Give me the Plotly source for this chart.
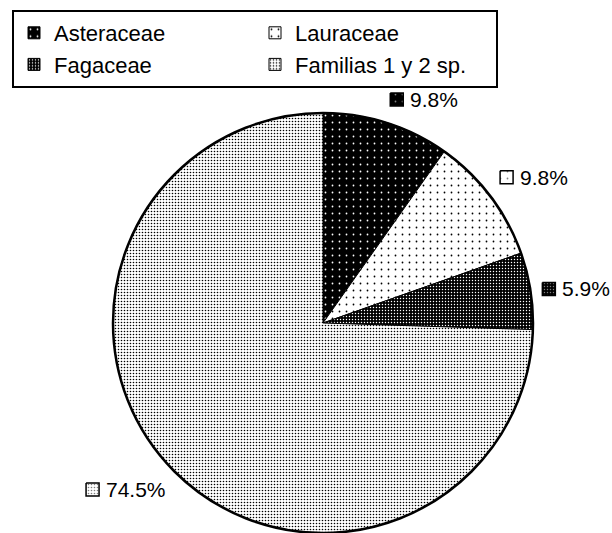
import math
import plotly.graph_objects as go

# Data: share of species by family (%)
families = ["Asteraceae", "Lauraceae", "Fagaceae", "Familias 1 y 2 sp."]
percentages = [9.8, 9.8, 5.9, 74.5]

# Figure geometry in pixels
W, H = 612, 533
CX, CY, R = 323, 323, 210
FONT = "Liberation Sans, Arial, Helvetica, sans-serif"

# Dotted fills for each family
patterns = [
    dict(shape=".", bgcolor="black", fgcolor="white", size=7, solidity=0.05),
    dict(shape=".", bgcolor="white", fgcolor="black", size=7, solidity=0.05),
    dict(shape=".", bgcolor="black", fgcolor="white", size=3, solidity=0.18),
    dict(shape=".", bgcolor="white", fgcolor="black", size=3, solidity=0.22),
]

fig = go.Figure()

fig.add_trace(go.Pie(
    labels=families,
    values=percentages,
    sort=False,
    direction="clockwise",
    rotation=0,
    textinfo="none",
    hoverinfo="label+percent",
    marker=dict(
        colors=[p["bgcolor"] for p in patterns],
        pattern=dict(
            shape=[p["shape"] for p in patterns],
            bgcolor=[p["bgcolor"] for p in patterns],
            fgcolor=[p["fgcolor"] for p in patterns],
            size=[p["size"] for p in patterns],
            solidity=[p["solidity"] for p in patterns],
        ),
        line=dict(color="black", width=1),
    ),
    domain=dict(x=[(CX - R) / W, (CX + R) / W],
                y=[1 - (CY + R) / H, 1 - (CY - R) / H]),
))

# Outer rim of the pie
shapes = [dict(type="circle", xref="x", yref="y",
               x0=CX - R, x1=CX + R, y0=CY - R, y1=CY + R,
               line=dict(color="black", width=2.5), fillcolor="rgba(0,0,0,0)")]

# Percentage labels with a small patterned key square, placed outside the rim:
# the label box corner facing the pie sits on a ray through the slice middle.
LABEL_FONT = 21
SQ = 13
GAP = 5
BOX_H = 24
LABEL_R = 1.057 * R
char_w = {"%": 0.889, ".": 0.278}
annotations = []
cum = 0.0
for fam, v, pat in zip(families, percentages, patterns):
    mid = (cum + v / 2) / 100 * 2 * math.pi
    cum += v
    text = f"{v:.1f}%"
    tw = sum(char_w.get(c, 0.556) for c in text) * LABEL_FONT
    box_w = SQ + GAP + tw
    s, c = math.sin(mid), math.cos(mid)
    px = CX + LABEL_R * s
    py = CY - LABEL_R * c
    left = px if s >= 0 else px - box_w
    if abs(c) < 0.5:
        by = py
    elif c > 0:
        by = py - BOX_H / 2
    else:
        by = py + BOX_H / 2
    sq_cx = left + SQ / 2
    tx = left + SQ + GAP
    annotations.append(dict(x=tx, y=by, xref="x", yref="y", text=text,
                            showarrow=False, xanchor="left", yanchor="middle",
                            font=dict(family=FONT, size=LABEL_FONT, color="black")))
    x0, x1 = sq_cx - SQ / 2, sq_cx + SQ / 2
    y0, y1 = by - SQ / 2, by + SQ / 2
    fig.add_trace(go.Scatter(
        x=[x0, x1, x1, x0, x0], y=[y0, y0, y1, y1, y0],
        mode="lines", fill="toself",
        fillcolor=pat["bgcolor"],
        fillpattern=dict(shape=pat["shape"], bgcolor=pat["bgcolor"],
                         fgcolor=pat["fgcolor"], size=pat["size"],
                         solidity=pat["solidity"]),
        line=dict(color="black", width=1.5),
        showlegend=False, hoverinfo="skip",
    ))

fig.update_layout(
    width=W, height=H,
    margin=dict(l=0, r=0, t=0, b=0, pad=0, autoexpand=False),
    paper_bgcolor="white", plot_bgcolor="white",
    xaxis=dict(range=[0, W], visible=False, fixedrange=True, domain=[0, 1]),
    yaxis=dict(range=[H, 0], visible=False, fixedrange=True, domain=[0, 1]),
    shapes=shapes,
    annotations=annotations,
    showlegend=True,
    legend=dict(
        orientation="h",
        x=12 / W, y=1 - 10 / H, xanchor="left", yanchor="top",
        entrywidth=196, entrywidthmode="pixels",
        font=dict(family=FONT, size=22, color="black"),
        bgcolor="white", bordercolor="black", borderwidth=2,
        traceorder="normal",
    ),
    font=dict(family=FONT, color="black"),
)

fig.write_html("out.html")
